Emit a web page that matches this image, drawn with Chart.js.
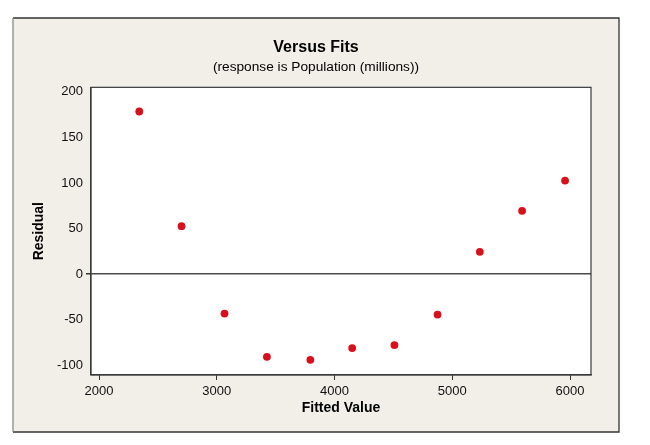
<!DOCTYPE html>
<html>
<head>
<meta charset="utf-8">
<title>Versus Fits</title>
<script src="https://cdn.jsdelivr.net/npm/chart.js@4/dist/chart.umd.min.js"></script>
<style>
  html, body { margin: 0; padding: 0; background: #ffffff; }
  canvas { display: block; }
</style>
</head>
<body>
<canvas id="chart" width="650" height="445"></canvas>
<script>
// Residuals vs fitted values
const fittedValues = [2342, 2701, 3066, 3426, 3795, 4150, 4509, 4875, 5234, 5593, 5958];
const residuals = [178.3, 52.6, -43.2, -90.7, -94.0, -81.1, -77.8, -44.3, 24.5, 69.4, 102.6];
const xTicks = [2000, 3000, 4000, 5000, 6000];
const yTicks = [-100, -50, 0, 50, 100, 150, 200];

const FONT = '"Liberation Sans", Arial, sans-serif';
const FRAME = { left: 13, top: 18, right: 619, bottom: 432 };

// Beige panel behind everything, white plot area, and frame lines
const framePlugin = {
  id: 'frame',
  beforeDraw(chart) {
    const ctx = chart.ctx;
    const a = chart.chartArea;
    ctx.save();
    ctx.fillStyle = '#f2efe9';
    ctx.fillRect(FRAME.left, FRAME.top, FRAME.right - FRAME.left, FRAME.bottom - FRAME.top);
    ctx.fillStyle = '#ffffff';
    ctx.fillRect(a.left, a.top, a.right - a.left, a.bottom - a.top);
    // outer frame: left side lighter than the others
    ctx.lineWidth = 1.3;
    ctx.strokeStyle = '#333333';
    ctx.beginPath();
    ctx.moveTo(FRAME.left, FRAME.top);
    ctx.lineTo(FRAME.right, FRAME.top);
    ctx.lineTo(FRAME.right, FRAME.bottom);
    ctx.lineTo(FRAME.left, FRAME.bottom);
    ctx.stroke();
    ctx.strokeStyle = '#8a8a8a';
    ctx.beginPath();
    ctx.moveTo(FRAME.left, FRAME.top);
    ctx.lineTo(FRAME.left, FRAME.bottom);
    ctx.stroke();
    ctx.restore();
  },
  afterDraw(chart) {
    const ctx = chart.ctx;
    const a = chart.chartArea;
    ctx.save();
    ctx.strokeStyle = '#3a3a3a';
    ctx.lineWidth = 1.2;
    ctx.strokeRect(a.left, a.top, a.right - a.left, a.bottom - a.top);
    ctx.restore();
  }
};

const ctx = document.getElementById('chart').getContext('2d');
new Chart(ctx, {
  type: 'scatter',
  data: {
    datasets: [{
      data: fittedValues.map((x, i) => ({ x: x, y: residuals[i] })),
      backgroundColor: '#d8101c',
      borderWidth: 0,
      pointRadius: 3.9,
      pointHoverRadius: 3.9
    }]
  },
  options: {
    responsive: false,
    animation: false,
    devicePixelRatio: 1,
    layout: { padding: { left: 13, right: 31, top: 18, bottom: 13 } },
    plugins: {
      legend: { display: false },
      tooltip: { enabled: false },
      title: {
        display: true,
        text: 'Versus Fits',
        color: '#000000',
        font: { family: FONT, size: 16, weight: 'bold', lineHeight: 1.2 },
        padding: { top: 20.4, bottom: 1.7 }
      },
      subtitle: {
        display: true,
        text: '(response is Population (millions))',
        color: '#000000',
        font: { family: FONT, size: 13.7, lineHeight: 1.2 },
        padding: { top: 0, bottom: 11.6 }
      }
    },
    scales: {
      x: {
        type: 'linear',
        min: 1932,
        max: 6178,
        afterFit(scale) { scale.height = 57; },
        afterBuildTicks(scale) { scale.ticks = xTicks.map(v => ({ value: v })); },
        ticks: {
          includeBounds: false,
          stepSize: 1000,
          padding: 4,
          color: '#111111',
          font: { family: FONT, size: 13 },
          callback: v => String(v)
        },
        grid: {
          drawOnChartArea: false,
          drawTicks: true,
          tickLength: 5,
          tickColor: '#333333'
        },
        border: { display: true, color: '#3a3a3a', width: 1.2 },
        title: {
          display: true,
          text: 'Fitted Value',
          color: '#000000',
          font: { family: FONT, size: 14, weight: 'bold', lineHeight: 1.2 },
          padding: { top: 0, bottom: 15.6 }
        }
      },
      y: {
        type: 'linear',
        min: -110.6,
        max: 204.8,
        afterFit(scale) { scale.width = 78; },
        afterBuildTicks(scale) { scale.ticks = yTicks.map(v => ({ value: v })); },
        ticks: {
          includeBounds: false,
          stepSize: 50,
          padding: 3,
          color: '#111111',
          font: { family: FONT, size: 13 },
          callback: v => String(v)
        },
        grid: {
          drawOnChartArea: true,
          drawTicks: true,
          tickLength: 5,
          tickColor: '#333333',
          color: c => (c.tick && c.tick.value === 0 ? '#4a4a4a' : 'rgba(0,0,0,0)'),
          lineWidth: c => (c.tick && c.tick.value === 0 ? 1.5 : 0)
        },
        border: { display: true, color: '#3a3a3a', width: 1.2 },
        title: {
          display: true,
          text: 'Residual',
          color: '#000000',
          font: { family: FONT, size: 14, weight: 'bold', lineHeight: 1.2 },
          padding: { top: 17.9, bottom: 0 }
        }
      },
      // empty right-hand strip so the plot ends where the reference's does
      yRight: {
        type: 'linear',
        position: 'right',
        display: true,
        afterFit(scale) { scale.width = 28; },
        ticks: { display: false },
        grid: { display: false },
        border: { display: false }
      }
    }
  },
  plugins: [framePlugin]
});
</script>
</body>
</html>
